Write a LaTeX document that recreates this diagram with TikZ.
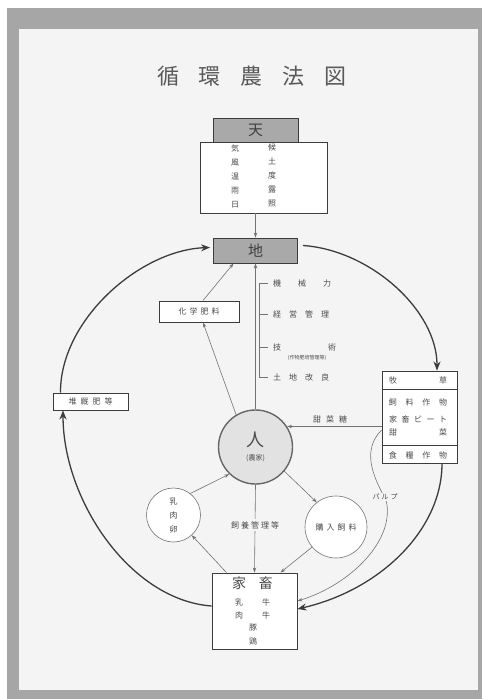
\documentclass[tikz,border=0pt]{standalone}
\usepackage{fontspec}
\setmainfont{Noto Sans CJK JP}
\usetikzlibrary{arrows.meta}
\definecolor{framec}{HTML}{A6A6A6}
\definecolor{panel}{HTML}{F4F4F4}
\definecolor{ink}{HTML}{3C3C3C}
\definecolor{txt}{HTML}{4A4A4A}
\definecolor{hdrfill}{HTML}{A9A9A9}
\definecolor{hitofill}{HTML}{E2E2E2}
\begin{document}
\begin{tikzpicture}[x=1pt,y=-1pt,
 box/.style={draw=ink, line width=0.9pt, fill=white, inner sep=0pt, text=txt, font=\fontsize{8}{8}\selectfont},
 hdr/.style={draw=ink, line width=0.9pt, fill=hdrfill, inner sep=0pt, font=\fontsize{15}{15}\selectfont, text=black!75},
 lbl/.style={text=txt, inner sep=0pt, font=\fontsize{8}{8}\selectfont},
 thinl/.style={draw=black!55, line width=0.6pt},
 arr/.style={thinl, -{Stealth[length=5pt,width=3.5pt]}},
 bigarr/.style={draw=ink, line width=1.3pt, -{Stealth[length=9pt,width=7pt]}},
 ring/.style={circle, draw=black!55, line width=0.6pt, fill=white, inner sep=0pt, text=txt, font=\fontsize{8}{8}\selectfont}]
\useasboundingbox (0,0) rectangle (482,699);
\fill[white] (0,0) rectangle (482,699);
\fill[framec] (7,8) rectangle (482,699);
\fill[panel] (19,29) rectangle (478,690);

% title
\node[font=\fontsize{22}{22}\selectfont, text=black!65, inner sep=0pt] (title) at (252,76)
  {循\hspace{20pt}環\hspace{20pt}農\hspace{20pt}法\hspace{20pt}図};

% heaven
\node[box, minimum width=127pt, minimum height=71pt] (tenb) at (263.5,177.5) {};
\node[hdr, minimum width=85pt, minimum height=24pt] (tenh) at (255.5,130) {天};
\node[lbl, align=center, font=\fontsize{8}{14}\selectfont] (tenl) at (235,176) {気\\風\\温\\雨\\日};
\node[lbl, align=center, font=\fontsize{8}{14}\selectfont] (tenr) at (272,176) {候\\土\\度\\露\\照};

% earth
\node[hdr, minimum width=84pt, minimum height=25pt] (chi) at (255.5,250.5) {地};
\draw[arr] (tenb.south -| chi.north) -- (chi.north);

% chemical fertiliser
\node[box, minimum width=80pt, minimum height=21pt] (kg) at (199,311.5) {化\hspace{3pt}学\hspace{3pt}肥\hspace{3pt}料};

% bracket list
\coordinate (b1) at (259,283);
\coordinate (b2) at (259,314);
\coordinate (b3) at (259,347);
\coordinate (b4) at (259,377);
\draw[thinl] (b1) -- (b4);
\draw[thinl] (b1) -- ++(9,0);
\draw[thinl] (b2) -- ++(9,0);
\draw[thinl] (b3) -- ++(9,0);
\draw[thinl] (b4) -- ++(9,0);
\node[lbl, anchor=west] (m1) at (273,283) {機\hspace{17pt}械\hspace{17pt}力};
\node[lbl, anchor=west] (m2) at (273,314) {経\hspace{8pt}営\hspace{8pt}管\hspace{8pt}理};
\node[lbl, anchor=west] (m3) at (273,347) {技\hspace{47pt}術};
\node[lbl, font=\fontsize{5}{5}\selectfont] (m3s) at (307,358) {(作物肥培管理等)};
\node[lbl, anchor=west] (m4) at (273,377) {土\hspace{8pt}地\hspace{8pt}改\hspace{8pt}良};

% human
\node[circle, draw=black!60, line width=1.4pt, fill=hitofill, minimum size=74pt, inner sep=0pt, align=center, text=black!70] (hito) at (255.5,447)
  {\fontsize{18}{18}\selectfont 人\\[2pt]\fontsize{7}{7}\selectfont (農家)};

% pasture box
\node[box, minimum width=75pt, minimum height=92pt] (mk) at (419.5,417) {};
\draw[ink, line width=0.9pt] (mk.west |- 0,389) -- (mk.east |- 0,389);
\draw[ink, line width=0.9pt] (mk.west |- 0,445) -- (mk.east |- 0,445);
\node[lbl] (mk1) at (418,380) {牧\hspace{42pt}草};
\node[lbl] (mk2) at (418,402) {飼\hspace{8.7pt}料\hspace{8.7pt}作\hspace{8.7pt}物};
\node[lbl] (mk3) at (418,419) {家\hspace{4.5pt}畜\hspace{4.5pt}ビ\hspace{4.5pt}ー\hspace{4.5pt}ト};
\node[lbl] (mk4) at (418,432) {甜\hspace{42pt}菜};
\node[lbl] (mk5) at (418,455) {食\hspace{8.7pt}糧\hspace{8.7pt}作\hspace{8.7pt}物};

% compost box
\node[box, minimum width=75pt, minimum height=17pt] (dk) at (90.5,401.5) {堆\hspace{4pt}厩\hspace{4pt}肥\hspace{4pt}等};

% small circles
\node[ring, minimum size=54pt, align=center, font=\fontsize{8}{14}\selectfont] (nk) at (173.5,515) {乳\\肉\\卵};
\node[ring, minimum size=62pt] (kn) at (336,527) {購\hspace{3pt}入\hspace{3pt}飼\hspace{3pt}料};

% livestock box
\node[box, minimum width=85pt, minimum height=76pt] (kc) at (254.5,611) {};
\node[lbl, font=\fontsize{14}{14}\selectfont] (kc1) at (252.5,583) {家\hspace{13pt}畜};
\node[lbl] (kc2) at (252.5,602) {乳\hspace{19pt}牛};
\node[lbl] (kc3) at (252.5,615) {肉\hspace{19pt}牛};
\node[lbl] (kc4) at (253,628) {豚};
\node[lbl] (kc5) at (253,641) {鶏};

% inner arrows
\draw[arr] (hito.north) -- (chi.south);
\draw[arr] (hito.121) -- ([xshift=4pt]kg.south);
\draw[arr] ([xshift=4pt]kg.north) -- ([xshift=-22pt]chi.south);
\draw[arr] (mk.west |- hito.33) -- (hito.33);
\node[lbl] (tsl) at (330,419) {甜\hspace{5pt}菜\hspace{5pt}糖};
\draw[arr] (hito.south) -- (kc.north);
\node[lbl, fill=panel, inner sep=2pt] (shy) at (255,525) {飼\hspace{2pt}養\hspace{2pt}管\hspace{2pt}理\hspace{2pt}等};
\draw[arr] (nk.52) -- (hito.226);
\draw[arr] ([xshift=-28pt]kc.north) -- (nk.-48);
\draw[arr] (hito.-40) -- (kn.128);
\draw[arr] (kn.-140) -- ([xshift=26pt]kc.north);

% pulp
\draw[arr] ([yshift=-13pt]mk.west) .. controls (362,450) and (372,475) .. (386,500)
  .. controls (396,540) and (350,585) .. ([yshift=10pt]kc.east);
\node[lbl, fill=panel, inner sep=1pt, font=\fontsize{7}{7}\selectfont] (pulp) at (385,497) {パ\hspace{2pt}ル\hspace{2pt}プ};

% big cycle
\draw[bigarr] ([shift={(5pt,5pt)}]chi.east) .. controls (370,250) and (437,310) .. ([xshift=17.5pt]mk.north);
\draw[bigarr] ([xshift=22.5pt]mk.south) .. controls (442,530) and (380,590) .. ([yshift=2pt]kc.east);
\draw[bigarr] ([yshift=5pt]kc.west) .. controls (130,600) and (63,500) .. ([xshift=-27.5pt]dk.south);
\draw[bigarr] ([xshift=-30pt]dk.north) .. controls (60,320) and (140,250) .. ([shift={(-3pt,3pt)}]chi.west);
\end{tikzpicture}
\end{document}
